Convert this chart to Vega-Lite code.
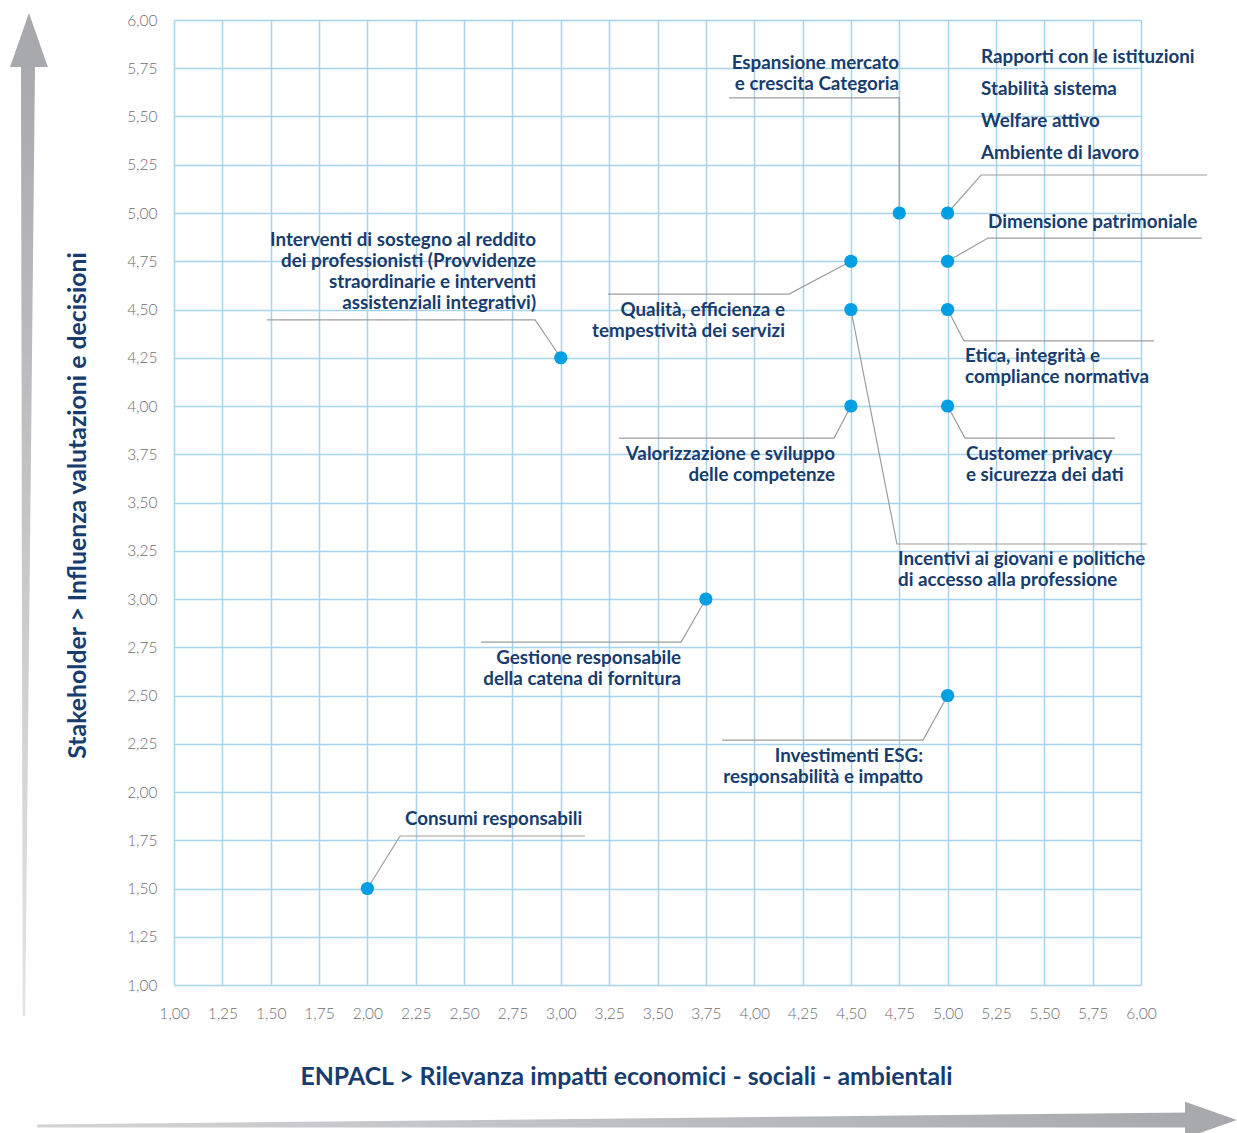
{
  "$schema": "https://vega.github.io/schema/vega-lite/v6.json",
  "width": 967,
  "height": 965,
  "autosize": {"type": "none"},
  "padding": {"left": 174, "top": 20, "right": 96, "bottom": 148},
  "background": "white",
  "config": {"view": {"stroke": null}},
  "datasets": {
    "temi": [
      {"tema": "Consumi responsabili", "x": 2, "y": 1.5},
      {"tema": "Gestione responsabile della catena di fornitura", "x": 3.75, "y": 3},
      {"tema": "Interventi di sostegno al reddito", "x": 3, "y": 4.25},
      {"tema": "Investimenti ESG", "x": 5, "y": 2.5},
      {"tema": "Qualità, efficienza e tempestività dei servizi", "x": 4.5, "y": 4.75},
      {"tema": "Incentivi ai giovani", "x": 4.5, "y": 4.5},
      {"tema": "Valorizzazione e sviluppo delle competenze", "x": 4.5, "y": 4},
      {"tema": "Espansione mercato e crescita Categoria", "x": 4.75, "y": 5},
      {"tema": "Rapporti / Stabilità / Welfare / Ambiente", "x": 5, "y": 5},
      {"tema": "Dimensione patrimoniale", "x": 5, "y": 4.75},
      {"tema": "Etica, integrità e compliance normativa", "x": 5, "y": 4.5},
      {"tema": "Customer privacy e sicurezza dei dati", "x": 5, "y": 4}
    ],
    "leader": [
      {"id": "consumi", "ord": 0, "x": 2, "y": 1.5},
      {"id": "consumi", "ord": 1, "x": 2.169, "y": 1.772},
      {"id": "consumi", "ord": 2, "x": 3.125, "y": 1.772},
      {"id": "gestione", "ord": 0, "x": 3.75, "y": 3},
      {"id": "gestione", "ord": 1, "x": 3.622, "y": 2.777},
      {"id": "gestione", "ord": 2, "x": 2.587, "y": 2.777},
      {"id": "interventi", "ord": 0, "x": 3, "y": 4.25},
      {"id": "interventi", "ord": 1, "x": 2.867, "y": 4.446},
      {"id": "interventi", "ord": 2, "x": 1.481, "y": 4.446},
      {"id": "esg", "ord": 0, "x": 5, "y": 2.5},
      {"id": "esg", "ord": 1, "x": 4.873, "y": 2.269},
      {"id": "esg", "ord": 2, "x": 3.834, "y": 2.269},
      {"id": "qualita", "ord": 0, "x": 4.5, "y": 4.75},
      {"id": "qualita", "ord": 1, "x": 4.18, "y": 4.58},
      {"id": "qualita", "ord": 2, "x": 3.244, "y": 4.58},
      {"id": "incentivi", "ord": 0, "x": 4.5, "y": 4.5},
      {"id": "incentivi", "ord": 1, "x": 4.738, "y": 3.285},
      {"id": "incentivi", "ord": 2, "x": 6.031, "y": 3.285},
      {"id": "valorizzazione", "ord": 0, "x": 4.5, "y": 4},
      {"id": "valorizzazione", "ord": 1, "x": 4.413, "y": 3.834},
      {"id": "valorizzazione", "ord": 2, "x": 3.301, "y": 3.834},
      {"id": "espansione", "ord": 0, "x": 4.75, "y": 5},
      {"id": "espansione", "ord": 1, "x": 4.75, "y": 5.596},
      {"id": "espansione", "ord": 2, "x": 3.87, "y": 5.596},
      {"id": "rapporti", "ord": 0, "x": 5, "y": 5},
      {"id": "rapporti", "ord": 1, "x": 5.173, "y": 5.197},
      {"id": "rapporti", "ord": 2, "x": 6.341, "y": 5.197},
      {"id": "dimensione", "ord": 0, "x": 5, "y": 4.75},
      {"id": "dimensione", "ord": 1, "x": 5.209, "y": 4.87},
      {"id": "dimensione", "ord": 2, "x": 6.315, "y": 4.87},
      {"id": "etica", "ord": 0, "x": 5, "y": 4.5},
      {"id": "etica", "ord": 1, "x": 5.085, "y": 4.337},
      {"id": "etica", "ord": 2, "x": 6.067, "y": 4.337},
      {"id": "customer", "ord": 0, "x": 5, "y": 4},
      {"id": "customer", "ord": 1, "x": 5.09, "y": 3.834},
      {"id": "customer", "ord": 2, "x": 5.866, "y": 3.834}
    ],
    "etichette": [
      {"side": "right", "x": 3.622, "y": 2.694, "label": ["Gestione responsabile", "della catena di fornitura"]},
      {"side": "right", "x": 2.872, "y": 4.86, "label": ["Interventi di sostegno al reddito", "dei professionisti (Provvidenze", "straordinarie e interventi", "assistenziali integrativi)"]},
      {"side": "right", "x": 4.873, "y": 2.187, "label": ["Investimenti ESG:", "responsabilità e impatto"]},
      {"side": "right", "x": 4.159, "y": 4.497, "label": ["Qualità, efficienza e", "tempestività dei servizi"]},
      {"side": "right", "x": 4.418, "y": 3.751, "label": ["Valorizzazione e sviluppo", "delle competenze"]},
      {"side": "right", "x": 4.749, "y": 5.777, "label": ["Espansione mercato", "e crescita Categoria"]},
      {"side": "left", "x": 2.194, "y": 1.86, "label": ["Consumi responsabili"]},
      {"side": "left", "x": 4.744, "y": 3.207, "label": ["Incentivi ai giovani e politiche", "di accesso alla professione"]},
      {"side": "left", "x": 5.173, "y": 5.808, "label": ["Rapporti con le istituzioni"]},
      {"side": "left", "x": 5.173, "y": 5.642, "label": ["Stabilità sistema"]},
      {"side": "left", "x": 5.173, "y": 5.477, "label": ["Welfare attivo"]},
      {"side": "left", "x": 5.173, "y": 5.311, "label": ["Ambiente di lavoro"]},
      {"side": "left", "x": 5.209, "y": 4.953, "label": ["Dimensione patrimoniale"]},
      {"side": "left", "x": 5.09, "y": 4.259, "label": ["Etica, integrità e", "compliance normativa"]},
      {"side": "left", "x": 5.095, "y": 3.751, "label": ["Customer privacy", "e sicurezza dei dati"]}
    ],
    "frecciaV": [
      {"x": 0.224, "y": 0.845},
      {"x": 0.245, "y": 5.756}
    ],
    "frecciaH": [
      {"x": 0.297, "y": 0.269},
      {"x": 6.253, "y": 0.3005}
    ],
    "puntaV": [{"x": 0.25, "y": 5.896}],
    "puntaH": [{"x": 6.362, "y": 0.3005}]
  },
  "encoding": {
    "x": {
      "field": "x",
      "type": "quantitative",
      "scale": {"domain": [1, 6], "nice": false, "zero": false},
      "axis": {
        "values": [1, 1.25, 1.5, 1.75, 2, 2.25, 2.5, 2.75, 3, 3.25, 3.5, 3.75, 4, 4.25, 4.5, 4.75, 5, 5.25, 5.5, 5.75, 6],
        "labelExpr": "replace(format(datum.value, '.2f'), '.', ',')",
        "grid": true,
        "gridColor": "#a9d3ea",
        "gridWidth": 1.5,
        "domain": false,
        "ticks": false,
        "tickSize": 0,
        "labelPadding": 21,
        "labelFont": "Lato",
        "labelFontWeight": 300,
        "labelFontSize": 15.5,
        "labelColor": "#6d6e71",
        "labelFlush": false,
        "labelOverlap": false,
        "title": "ENPACL > Rilevanza impatti economici - sociali - ambientali",
        "titleFont": "Lato",
        "titleFontSize": 24.8,
        "titleFontWeight": "bold",
        "titleColor": "#173c6e",
        "titleX": 452,
        "titleY": 92,
        "titleAlign": "center",
        "titleBaseline": "middle"
      }
    },
    "y": {
      "field": "y",
      "type": "quantitative",
      "scale": {"domain": [1, 6], "nice": false, "zero": false},
      "axis": {
        "values": [1, 1.25, 1.5, 1.75, 2, 2.25, 2.5, 2.75, 3, 3.25, 3.5, 3.75, 4, 4.25, 4.5, 4.75, 5, 5.25, 5.5, 5.75, 6],
        "labelExpr": "replace(format(datum.value, '.2f'), '.', ',')",
        "grid": true,
        "gridColor": "#a9d3ea",
        "gridWidth": 1.5,
        "domain": false,
        "ticks": false,
        "tickSize": 0,
        "labelPadding": 17,
        "labelFont": "Lato",
        "labelFontWeight": 300,
        "labelFontSize": 15.5,
        "labelColor": "#6d6e71",
        "labelFlush": false,
        "labelOverlap": false,
        "title": "Stakeholder > Influenza valutazioni e decisioni",
        "titleFont": "Lato",
        "titleFontSize": 24.8,
        "titleFontWeight": "bold",
        "titleColor": "#173c6e",
        "titleX": -96,
        "titleY": 485,
        "titleAngle": 270,
        "titleAlign": "center",
        "titleBaseline": "middle"
      }
    }
  },
  "layer": [
    {
      "data": {"name": "frecciaV"},
      "mark": {
        "type": "trail",
        "clip": false,
        "color": {
          "gradient": "linear",
          "x1": 0, "y1": 1, "x2": 0, "y2": 0,
          "stops": [{"offset": 0, "color": "#e4e4e5"}, {"offset": 1, "color": "#a7a9ac"}]
        }
      },
      "encoding": {
        "order": {"field": "y", "type": "quantitative"},
        "size": {"field": "y", "type": "quantitative", "scale": {"domain": [0.845, 5.756], "range": [2.5, 14]}, "legend": null}
      }
    },
    {
      "data": {"name": "frecciaH"},
      "mark": {
        "type": "trail",
        "clip": false,
        "color": {
          "gradient": "linear",
          "x1": 0, "y1": 0, "x2": 1, "y2": 0,
          "stops": [{"offset": 0, "color": "#d4d4d5"}, {"offset": 1, "color": "#a7a9ac"}]
        }
      },
      "encoding": {
        "order": {"field": "x", "type": "quantitative"},
        "size": {"field": "x", "type": "quantitative", "scale": {"domain": [0.297, 6.253], "range": [3, 15]}, "legend": null}
      }
    },
    {
      "data": {"name": "puntaV"},
      "mark": {"type": "point", "clip": false, "filled": true, "opacity": 1, "color": "#a7a9ac", "shape": "M0,-1L0.7,1L-0.7,1Z", "size": 2916}
    },
    {
      "data": {"name": "puntaH"},
      "mark": {"type": "point", "clip": false, "filled": true, "opacity": 1, "color": "#a7a9ac", "shape": "M1,0L-1,-0.7L-1,0.7Z", "size": 2704}
    },
    {
      "data": {"name": "leader"},
      "mark": {"type": "line", "clip": false, "color": "#9d9d9d", "strokeWidth": 1.2},
      "encoding": {
        "detail": {"field": "id", "type": "nominal"},
        "order": {"field": "ord", "type": "quantitative"}
      }
    },
    {
      "data": {"name": "temi"},
      "mark": {"type": "circle", "clip": false, "color": "#009fe3", "opacity": 1, "size": 175}
    },
    {
      "data": {"name": "etichette"},
      "transform": [{"filter": "datum.side === 'right'"}],
      "mark": {"type": "text", "clip": false, "align": "right", "baseline": "middle", "font": "Lato", "fontWeight": "bold", "fontSize": 18.8, "lineHeight": 21, "color": "#173c6e"},
      "encoding": {"text": {"field": "label"}}
    },
    {
      "data": {"name": "etichette"},
      "transform": [{"filter": "datum.side === 'left'"}],
      "mark": {"type": "text", "clip": false, "align": "left", "baseline": "middle", "font": "Lato", "fontWeight": "bold", "fontSize": 18.8, "lineHeight": 21, "color": "#173c6e"},
      "encoding": {"text": {"field": "label"}}
    }
  ],
  "resolve": {"scale": {"size": "independent"}}
}
